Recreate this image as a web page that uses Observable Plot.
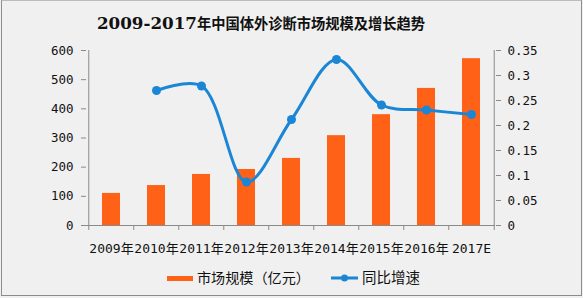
<!DOCTYPE html>
<html>
<head>
<meta charset="utf-8">
<script src="https://cdn.jsdelivr.net/npm/d3@7"></script>
<script src="https://cdn.jsdelivr.net/npm/@observablehq/plot@0.6"></script>
<style>
  html, body { margin: 0; padding: 0; background: #f0f0f0; }
  #wrap { position: relative; width: 583px; height: 298px; overflow: hidden; background: #f0f0f0; }
  #frame { position: absolute; left: 1px; top: 0px; width: 579px; height: 294px; border: 1px solid #8c8c8c; border-top-color: #bbb; pointer-events: none; }
  #title { position: absolute; left: 97px; top: 12px; white-space: nowrap; font-weight: bold; color: #111; line-height: 22px; }
  #title .n { font: bold 16px "DejaVu Serif", serif; }
  #title .c { font: bold 17px "Noto Sans CJK SC", sans-serif; }
  #chart { position: absolute; left: 0; top: 0; }
  .leg { position: absolute; top: 268px; font: 14px "Noto Sans CJK SC", sans-serif; color: #111; line-height: 18px; white-space: nowrap; }
</style>
</head>
<body>
<div id="wrap">
  <div id="chart"></div>
  <div id="title"><span class="n">2009-2017</span><span class="c">年中国体外诊断市场规模及增长趋势</span></div>
  <div class="leg" id="leg1" style="left:167px;"><span style="display:inline-block;width:26px;height:5px;background:#ff6116;vertical-align:middle;margin-right:4px;position:relative;top:-1px;"></span><span class="t">市场规模（亿元）</span></div>
  <div class="leg" id="leg2" style="left:331px;"><svg width="27" height="10" style="vertical-align:middle;margin-right:4px;position:relative;top:-1px;"><line x1="0" y1="5" x2="27" y2="5" stroke="#1b86d6" stroke-width="3"/><circle cx="13.5" cy="5" r="3.5" fill="#1b86d6"/></svg><span class="t">同比增速</span></div>
  <div id="frame"></div>
</div>
<script>
const years = ["2009年","2010年","2011年","2012年","2013年","2014年","2015年","2016年","2017E"];
const marketSize = [110, 137, 175, 192, 230, 308, 380, 470, 572];
const growth = [null, 0.27, 0.279, 0.087, 0.212, 0.332, 0.241, 0.231, 0.222];
const leftTicks = [0, 100, 200, 300, 400, 500, 600];
const rightTicks = [0, 0.05, 0.1, 0.15, 0.2, 0.25, 0.3, 0.35];

const yMax = 600, rMax = 0.35;
const k = yMax / rMax;
const bars = years.map((y, i) => ({year: y, value: marketSize[i]}));
const pts = years.map((y, i) => ({year: y, g: growth[i]})).filter(d => d.g != null);

const W = 583, H = 298, mL = 86, mR = 88, mT = 50, mB = 73;
const step = (W - mL - mR) / years.length;
const axisColor = "#8a8a8a";
const font = "'DejaVu Sans Mono', 'Noto Sans CJK SC', monospace";

const chart = Plot.plot({
  width: W, height: H,
  marginLeft: mL, marginRight: mR, marginTop: mT, marginBottom: mB,
  style: {background: "transparent", fontFamily: font, fontSize: "12px", color: "#111"},
  x: {domain: years, paddingInner: 0.6, paddingOuter: 0.3, label: null},
  y: {domain: [0, yMax], label: null},
  marks: [
    Plot.barY(bars, {x: "year", y: "value", fill: "#ff6116"}),
    Plot.line(pts, {x: "year", y: d => d.g * k, stroke: "#1b86d6", strokeWidth: 3, curve: "catmull-rom"}),
    Plot.dot(pts, {x: "year", y: d => d.g * k, fill: "#1b86d6", r: 4.5}),
    Plot.axisY({ticks: leftTicks, anchor: "left", tickSize: 5, tickPadding: 8, stroke: axisColor, label: null, fontSize: 12.5, fill: "#111"}),
    Plot.axisY({ticks: rightTicks.map(t => t * k), anchor: "right", tickSize: 5, tickPadding: 7, stroke: axisColor, label: null, tickFormat: d => String(+(d / k).toFixed(2)), fontSize: 12.5, fill: "#111"}),
    Plot.ruleX([years[0]], {x: d => d, y1: 0, y2: yMax, stroke: axisColor, dx: -step / 2}),
    Plot.ruleX([years[years.length - 1]], {x: d => d, y1: 0, y2: yMax, stroke: axisColor, dx: step / 2}),
    Plot.ruleY([0], {stroke: axisColor}),
    Plot.ruleX(years, {x: d => d, y1: 0, y2: 0, insetBottom: -5, stroke: axisColor, dx: -step / 2}),
    Plot.ruleX([years[years.length - 1]], {x: d => d, y1: 0, y2: 0, insetBottom: -5, stroke: axisColor, dx: step / 2}),
    Plot.axisX({tickSize: 0, tickPadding: 18, label: null, fontSize: 13, fill: "#111"})
  ]
});
document.getElementById("chart").appendChild(chart);

// fit text widths to the reference layout
function fit(el, target) {
  const w = el.getBoundingClientRect().width;
  const fs = parseFloat(getComputedStyle(el).fontSize);
  if (w > 0) el.style.fontSize = (fs * target / w) + "px";
}
fit(document.querySelector("#title .n"), 100);
fit(document.querySelector("#title .c"), 228);
fit(document.querySelector("#leg1 .t"), 113);
fit(document.querySelector("#leg2 .t"), 58);
</script>
</body>
</html>
